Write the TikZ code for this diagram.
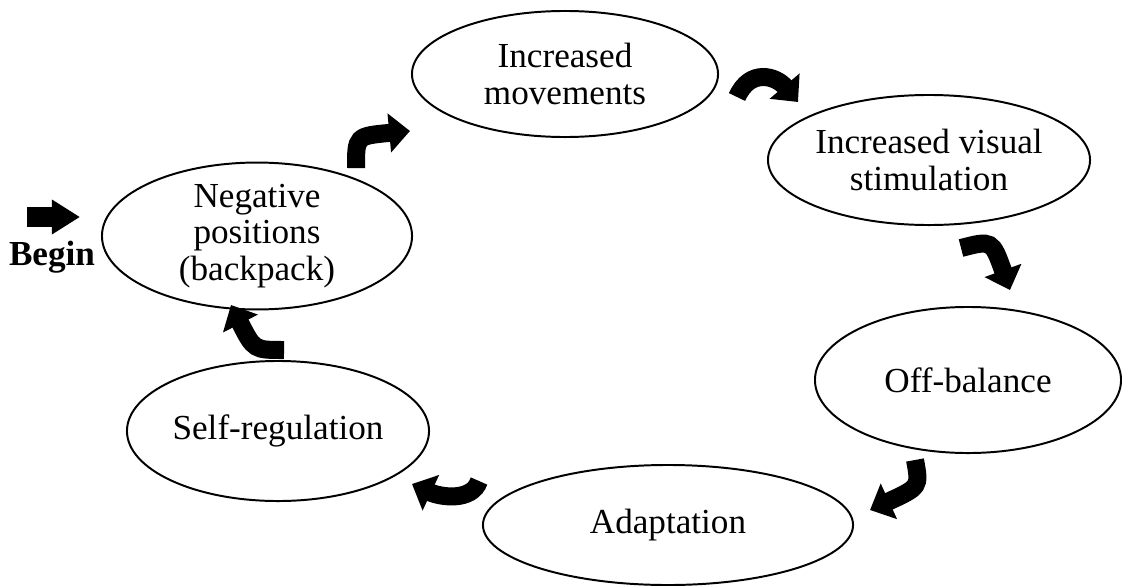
\documentclass[tikz,border=0pt]{standalone}
\usepackage{fontspec}
\setmainfont{Liberation Serif}
\usetikzlibrary{shapes.geometric,arrows.meta}

\def\groesse{\fontsize{25}{26}\selectfont}

\begin{document}
\begin{tikzpicture}[x=0.025cm,y=-0.025cm,
	oval/.style={ellipse,draw,line width=1.4pt,inner sep=0pt,align=center,font=\groesse},
	pfeil/.style={line width=0.45cm,-{Triangle[length=0.52cm,width=0.95cm]}}]

\useasboundingbox (0,0) rectangle (1122,585);

% Kreislauf
\node[oval,minimum width=7.65cm,minimum height=3.15cm] (bewegung) at (565,74) {Increased\\movements};
\node[oval,minimum width=8.05cm,minimum height=3.25cm] (visuell) at (929,160) {Increased visual\\stimulation};
\node[oval,minimum width=7.65cm,minimum height=3.65cm] (balance) at (968,380) {Off-balance};
\node[oval,minimum width=9.25cm,minimum height=3.0cm] (anpassung) at (668,525) {Adaptation};
\node[oval,minimum width=7.55cm,minimum height=3.5cm] (regulation) at (278,431) {Self-regulation};
\node[oval,minimum width=7.75cm,minimum height=3.15cm] (negativ) at (257,236) {Negative\\positions\\(backpack)};

\node[font=\groesse\bfseries] (begin) at (52,257) {Begin};

% Pfeile
\coordinate (s0) at (27,217);  \coordinate (e0) at (80,217);
\coordinate (s1) at (356,168); \coordinate (e1) at (410,131);
\coordinate (s2) at (737,97);  \coordinate (e2) at (798,102);
\coordinate (s3) at (961,248); \coordinate (e3) at (1010,290);
\coordinate (s4) at (915,460); \coordinate (e4) at (870,510);
\coordinate (s5) at (479,481); \coordinate (e5) at (412,484);
\coordinate (s6) at (284,350); \coordinate (e6) at (231,305);

\draw[line width=0.5cm,-{Triangle[length=0.7cm,width=0.82cm]}] (s0) -- (e0);
\draw[pfeil] (s1) .. controls (356,136) .. (e1);
\draw[pfeil] (s2) .. controls (750,68) and (776,76) .. (e2);
\draw[pfeil] (s3) .. controls (992,240) .. (e3);
\draw[pfeil] (s4) .. controls (920,487) .. (e4);
\draw[pfeil] (s5) .. controls (472,502) and (440,497) .. (e5);
\draw[pfeil] (s6) .. controls (254,350) .. (e6);

\end{tikzpicture}
\end{document}
